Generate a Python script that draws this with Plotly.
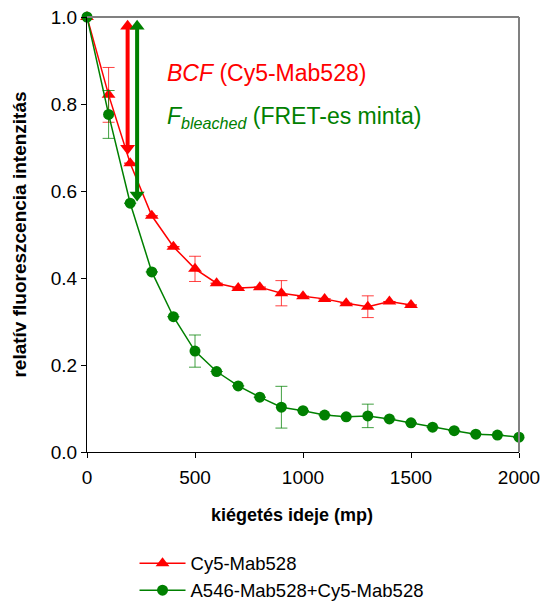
import plotly.graph_objects as go

# Data
red_x = [0, 100, 200, 300, 400, 500, 600, 700, 800, 900, 1000, 1100, 1200, 1300, 1400, 1500]
red_y = [1.0, 0.821, 0.664, 0.543, 0.472, 0.421, 0.388, 0.377, 0.379, 0.365, 0.358, 0.352, 0.342, 0.334, 0.346, 0.338]
red_err = [0, 0.063, 0, 0, 0, 0.029, 0, 0, 0, 0.029, 0, 0, 0, 0.025, 0, 0]

green_x = [0, 100, 200, 300, 400, 500, 600, 700, 800, 900, 1000, 1100, 1200, 1300, 1400, 1500, 1600, 1700, 1800, 1900, 2000]
green_y = [1.0, 0.776, 0.572, 0.414, 0.311, 0.232, 0.185, 0.152, 0.126, 0.103, 0.095, 0.085, 0.081, 0.083, 0.076, 0.067, 0.057, 0.049, 0.041, 0.039, 0.034]
green_err = [0, 0.055, 0, 0, 0, 0.037, 0, 0, 0, 0.048, 0, 0, 0, 0.027, 0, 0, 0, 0, 0, 0, 0]

# Double arrows (x, top, bottom)
bcf_arrow = dict(x=[188, 188], y=[0.979, 0.698])
fb_arrow = dict(x=[232, 232], y=[0.979, 0.591])

x_ticks = [0, 500, 1000, 1500, 2000]
y_ticks = [0.0, 0.2, 0.4, 0.6, 0.8, 1.0]

RED = "#FF0000"
GREEN = "#008000"
FONT = "Liberation Sans, Arial, sans-serif"

fig = go.Figure()

fig.add_trace(go.Scatter(
    x=red_x, y=red_y, mode="lines+markers", name="Cy5-Mab528",
    line=dict(color=RED, width=1.5),
    marker=dict(symbol="triangle-up", size=12, color=RED),
    error_y=dict(type="data", array=red_err, visible=True, color="rgba(255,0,0,0.75)", thickness=1, width=6),
))
fig.add_trace(go.Scatter(
    x=green_x, y=green_y, mode="lines+markers", name="A546-Mab528+Cy5-Mab528",
    line=dict(color=GREEN, width=1.5),
    marker=dict(symbol="circle", size=11, color=GREEN),
    error_y=dict(type="data", array=green_err, visible=True, color="rgba(0,128,0,0.75)", thickness=1, width=6),
))

for arr, col in [(bcf_arrow, RED), (fb_arrow, GREEN)]:
    fig.add_trace(go.Scatter(
        x=arr["x"], y=arr["y"], mode="lines+markers", showlegend=False, hoverinfo="skip",
        line=dict(color=col, width=4),
        marker=dict(symbol=["triangle-up", "triangle-down"], size=13, color=col),
    ))

fig.add_annotation(x=360, y=0.871, xref="x", yref="y", xanchor="left", yanchor="middle",
                   text="<i>BCF</i> (Cy5-Mab528)", showarrow=False,
                   font=dict(family=FONT, size=23, color=RED))
fig.add_annotation(x=360, y=0.770, xref="x", yref="y", xanchor="left", yanchor="middle",
                   text="<i>F<sub>bleached</sub></i> (FRET-es minta)", showarrow=False,
                   font=dict(family=FONT, size=23, color=GREEN))

# x axis title (offset left of plot centre as in the reference)
fig.add_annotation(x=0.4745, y=-0.145, xref="paper", yref="paper", xanchor="center", yanchor="middle",
                   text="<b>kiégetés ideje (mp)</b>", showarrow=False,
                   font=dict(family=FONT, size=18, color="black"))

# frame top/right (gray)
fig.add_shape(type="line", xref="paper", yref="paper", x0=0, x1=1, y0=1, y1=1,
              line=dict(color="#808080", width=2))
fig.add_shape(type="line", xref="paper", yref="paper", x0=1, x1=1, y0=0, y1=1,
              line=dict(color="#808080", width=2))

fig.update_layout(
    width=541, height=601,
    margin=dict(l=87, r=22, t=17, b=149, autoexpand=False),
    paper_bgcolor="white", plot_bgcolor="white",
    font=dict(family=FONT, size=19, color="black"),
    xaxis=dict(range=[0, 2000], tickvals=x_ticks, ticktext=[str(v) for v in x_ticks],
               showgrid=False, zeroline=False, showline=True, linecolor="black", linewidth=1,
               ticks="outside", ticklen=5, tickcolor="black", tickfont=dict(size=19),
               ticklabelstandoff=3),
    yaxis=dict(range=[0, 1.0], tickvals=y_ticks, ticktext=[f"{v:.1f}" for v in y_ticks],
               showgrid=False, zeroline=False, showline=True, linecolor="black", linewidth=1,
               ticks="outside", ticklen=5, tickcolor="black", tickfont=dict(size=19),
               title=dict(text="<b>relatív fluoreszcencia intenzitás</b>", font=dict(size=19), standoff=19)),
    showlegend=True,
    legend=dict(x=0.11, y=-0.213, xanchor="left", yanchor="top", orientation="v",
                font=dict(size=18.5), itemwidth=46, bgcolor="rgba(0,0,0,0)", tracegroupgap=0),
)

fig.update_traces(cliponaxis=False, selector=dict(type="scatter"))

fig.write_html("out.html")
